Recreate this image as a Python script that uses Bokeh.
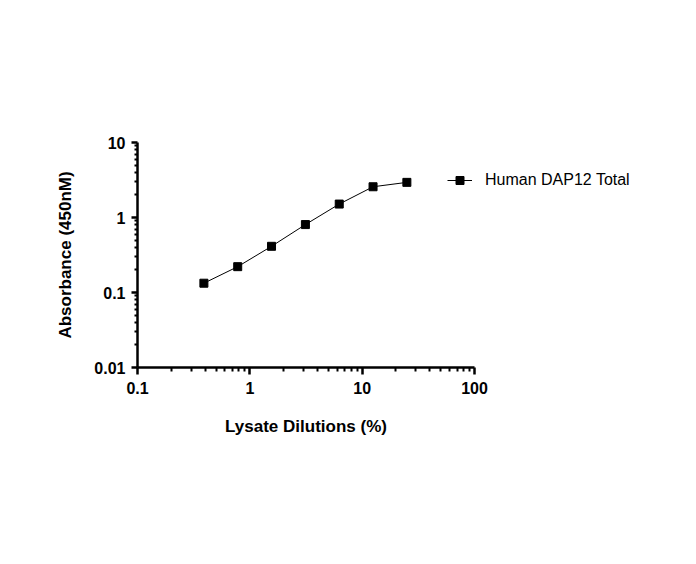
from bokeh.plotting import figure
from bokeh.models import (Range1d, FixedTicker, CustomJSTickFormatter, Legend, LegendItem)
from bokeh.embed import file_html
from bokeh.resources import INLINE

# Data
dilutions = [0.39, 0.78, 1.56, 3.125, 6.25, 12.5, 25.0]
absorbance = [0.133, 0.221, 0.413, 0.805, 1.51, 2.57, 2.94]
series_name = "Human DAP12 Total"

x_ticks = [0.1, 1, 10, 100]
y_ticks = [0.01, 0.1, 1, 10]
x_title = "Lysate Dilutions (%)"
y_title = "Absorbance (450nM)"

FONT = "Liberation Sans"

def minor_for(decades):
    out = []
    for d in decades[:-1]:
        for k in range(2, 10):
            out.append(round(d * k, 6))
    return out

p = figure(frame_width=337, frame_height=225, x_axis_type="log", y_axis_type="log",
           x_range=Range1d(0.1, 100), y_range=Range1d(0.01, 10),
           output_backend="svg", toolbar_location=None,
           min_border_left=137, min_border_right=206,
           min_border_top=142, min_border_bottom=181)
p.outline_line_color = None
p.xgrid.visible = False
p.ygrid.visible = False
p.background_fill_color = "white"
p.border_fill_color = "white"

fmt = CustomJSTickFormatter(code="return String(Number(tick.toPrecision(6)));")

for ax, ticks in ((p.xaxis[0], x_ticks), (p.yaxis[0], y_ticks)):
    ax.ticker = FixedTicker(ticks=ticks, minor_ticks=minor_for(ticks))
    ax.formatter = fmt
    ax.axis_line_width = 2.5
    ax.axis_line_color = "black"
    ax.major_tick_line_width = 2.5
    ax.minor_tick_line_width = 2
    ax.major_tick_line_color = "black"
    ax.minor_tick_line_color = "black"
    ax.major_tick_in = 0
    ax.minor_tick_in = 0
    ax.major_label_text_font = FONT
    ax.major_label_text_font_style = "bold"
    ax.major_label_text_font_size = "16px"
    ax.major_label_text_color = "black"
    ax.axis_label_text_font = FONT
    ax.axis_label_text_font_style = "bold"
    ax.axis_label_text_font_size = "17px"
    ax.axis_label_text_color = "black"

p.xaxis.major_tick_out = 7
p.xaxis.minor_tick_out = 4
p.xaxis.major_label_standoff = 7
p.xaxis.axis_label = x_title
p.xaxis.axis_label_standoff = 20

p.yaxis.major_tick_out = 6
p.yaxis.minor_tick_out = 3
p.yaxis.major_label_standoff = 6
p.yaxis.axis_label = y_title
p.yaxis.axis_label_standoff = 16

line_r = p.line(dilutions, absorbance, line_color="black", line_width=1)
pts_r = p.scatter(dilutions, absorbance, marker="square", size=8,
                  fill_color="black", line_color="black")

legend = Legend(items=[LegendItem(label=series_name, renderers=[line_r, pts_r])],
                location=(-27, 177), padding=0, margin=0,
                glyph_width=25, glyph_height=20, label_standoff=13,
                label_text_font=FONT, label_text_font_size="16px",
                label_text_color="black",
                border_line_color=None, background_fill_alpha=0)
p.add_layout(legend, "right")

open("out.html", "w").write(file_html(p, INLINE))
